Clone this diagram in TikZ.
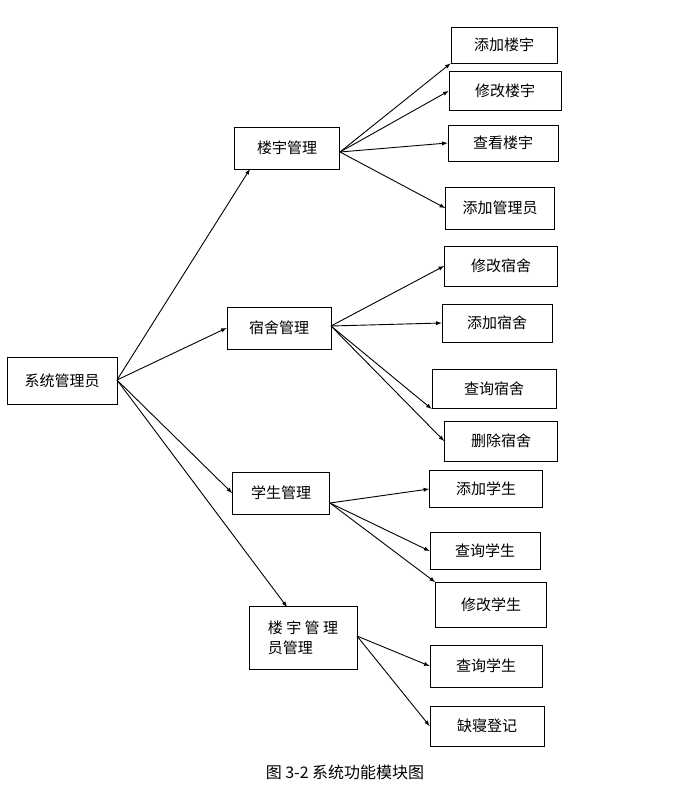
\documentclass[tikz,border=0pt]{standalone}
\usepackage{fontspec}
\setmainfont{Noto Sans CJK SC}
\usetikzlibrary{arrows}
\tikzstyle{Module}=[draw=black, shape=rectangle, inner sep=2pt, line width=0.8pt, font=\fontsize{15}{20}\selectfont, align=left]
\tikzstyle{arrow}=[->, >=latex, line width=0.9pt]
\begin{document}
\begin{tikzpicture}[x=1pt, y=-1pt]
	\useasboundingbox (0,0) rectangle (691,797);
	% root and second level
	\node [style=Module, minimum width=110, minimum height=47] (admin) at (62,381) {系统管理员};
	\node [style=Module, minimum width=105, minimum height=42] (building) at (287,148) {楼宇管理};
	\node [style=Module, minimum width=104, minimum height=42] (dorm) at (279,328) {宿舍管理};
	\node [style=Module, minimum width=97, minimum height=42] (student) at (281,493) {学生管理};
	\node [style=Module, minimum width=108, minimum height=63] (keeper) at (303,638) {楼\ 宇\ 管\ 理\\员管理};
	% leaves
	\node [style=Module, minimum width=106, minimum height=36] (addB) at (504,45) {添加楼宇};
	\node [style=Module, minimum width=112, minimum height=39] (editB) at (505,91) {修改楼宇};
	\node [style=Module, minimum width=110, minimum height=36] (viewB) at (503,143) {查看楼宇};
	\node [style=Module, minimum width=109, minimum height=42] (addM) at (500,208) {添加管理员};
	\node [style=Module, minimum width=113, minimum height=40] (editD) at (501,266) {修改宿舍};
	\node [style=Module, minimum width=110, minimum height=38] (addD) at (497,323) {添加宿舍};
	\node [style=Module, minimum width=124, minimum height=39] (findD) at (494,389) {查询宿舍};
	\node [style=Module, minimum width=113, minimum height=40] (delD) at (501,441) {删除宿舍};
	\node [style=Module, minimum width=113, minimum height=37] (addS) at (486,489) {添加学生};
	\node [style=Module, minimum width=110, minimum height=37] (findS) at (485,551) {查询学生};
	\node [style=Module, minimum width=111, minimum height=45] (editS) at (491,605) {修改学生};
	\node [style=Module, minimum width=112, minimum height=42] (findS2) at (486,666) {查询学生};
	\node [style=Module, minimum width=114, minimum height=40] (absent) at (487,726) {缺寝登记};
	\coordinate (rootOut) at (117,380);
	\coordinate (bOut) at (340,152);
	\coordinate (dOut) at (331,326);
	\coordinate (sOut) at (330,503);
	\coordinate (kOut) at (357,636);

	\draw [style=arrow] (rootOut) to (250,169);
	\draw [style=arrow] (rootOut) to (dorm.west);
	\draw [style=arrow] (rootOut) to (student.west);
	\draw [style=arrow] (rootOut) to (287,607);

	\draw [style=arrow] (bOut) to (addB.south west);
	\draw [style=arrow] (bOut) to (editB.west);
	\draw [style=arrow] (bOut) to (viewB.west);
	\draw [style=arrow] (bOut) to (addM.west);

	\draw [style=arrow] (dOut) to (editD.west);
	\draw [style=arrow] (dOut) to (addD.west);
	\draw [style=arrow] (dOut) to (findD.south west);
	\draw [style=arrow] (dOut) to (delD.west);

	\draw [style=arrow] (sOut) to (addS.west);
	\draw [style=arrow] (sOut) to (findS.west);
	\draw [style=arrow] (sOut) to (editS.north west);

	\draw [style=arrow] (kOut) to (findS2.west);
	\draw [style=arrow] (kOut) to (absent.west);

	\node [font=\fontsize{16}{18}\selectfont] (caption) at (345,772) {图 3-2 系统功能模块图};
\end{tikzpicture}
\end{document}
